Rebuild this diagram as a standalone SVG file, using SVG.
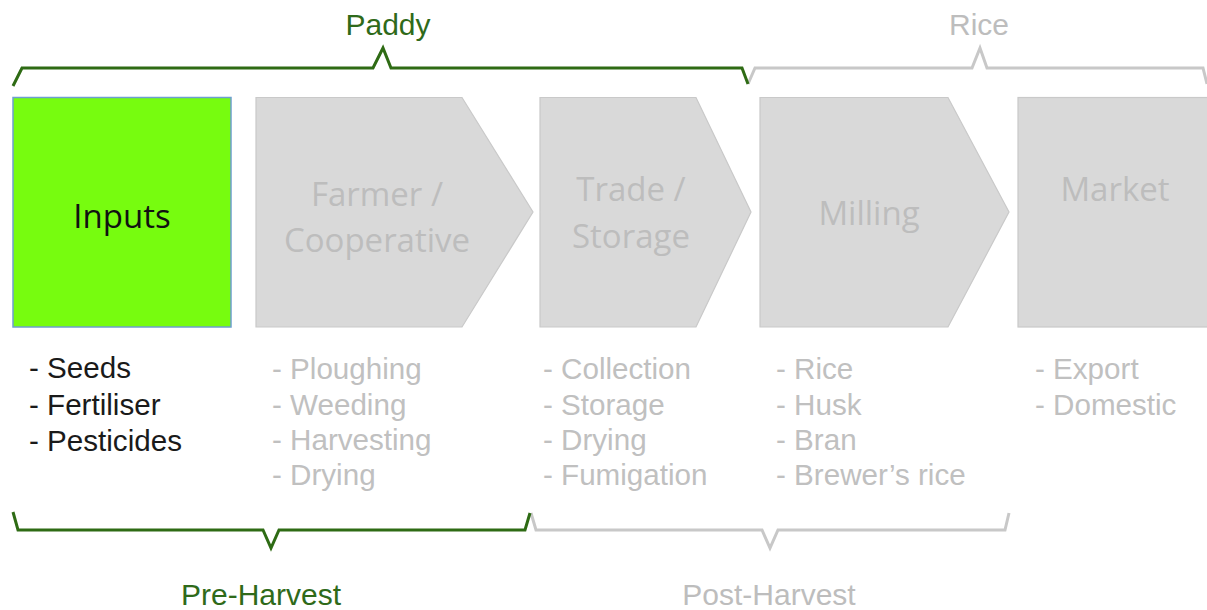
<svg xmlns="http://www.w3.org/2000/svg" width="1207" height="610" viewBox="0 0 1207 610">
<style>
.box{fill:#d9d9d9;stroke:#c9c9c9;stroke-width:1.2}
.lbl{font-family:"Open Sans","Liberation Sans",sans-serif;font-size:33px;fill:#bdbdbd;text-anchor:middle}
.lst{font-family:"Liberation Sans",Arial,sans-serif;font-size:29.6px;fill:#c0c0c0}
.blk{fill:#1a1a1a}
.hdr{font-family:"Liberation Sans",Arial,sans-serif;font-size:30px;text-anchor:middle}
.green{fill:#2f6a1a}
.grey{fill:#bdbdbd}
.brG{fill:none;stroke:#2e6b14;stroke-width:3;stroke-linejoin:miter}
.brY{fill:none;stroke:#c8c8c8;stroke-width:3;stroke-linejoin:miter}
</style>
<rect width="1207" height="610" fill="#ffffff"/>

<g id="connectors">
  <path class="brY" d="M748 84 L755 68 L972 68 L980 48 L987 68 L1203 68 L1207 84"/>
  <path class="brG" d="M13 86 L22 68 L373 68 L383 48 L391 68 L742 68 L748 84"/>
  <path class="brY" d="M531 513 L536 530 L762 530 L770 548 L778 530 L1005 530 L1009 513"/>
  <path class="brG" d="M13 512 L18 530 L263 530 L271 548 L279 530 L525 530 L530 513"/>
</g>

<g id="paddy-label"><text class="hdr green" x="388" y="35">Paddy</text></g>
<g id="rice-label"><text class="hdr grey" x="979" y="35">Rice</text></g>
<g id="preharvest-label"><text class="hdr green" x="261" y="605">Pre-Harvest</text></g>
<g id="postharvest-label"><text class="hdr grey" x="769" y="605">Post-Harvest</text></g>

<g id="inputs">
  <rect x="13" y="97.5" width="218" height="229.5" fill="#77fc0f" stroke="#6e9fd0" stroke-width="1.5"/>
  <text class="lbl" x="122" y="228" style="fill:#111111">Inputs</text>
  <text class="lst blk" x="29" y="378">- Seeds</text>
  <text class="lst blk" x="29" y="415">- Fertiliser</text>
  <text class="lst blk" x="29" y="451">- Pesticides</text>
</g>

<g id="farmer">
  <polygon class="box" points="256,97.5 462,97.5 533,212 462,327 256,327"/>
  <text class="lbl" x="377" y="206">Farmer /</text>
  <text class="lbl" x="377" y="252">Cooperative</text>
  <text class="lst" x="272" y="379">- Ploughing</text>
  <text class="lst" x="272" y="415">- Weeding</text>
  <text class="lst" x="272" y="450">- Harvesting</text>
  <text class="lst" x="272" y="485">- Drying</text>
</g>

<g id="trade">
  <polygon class="box" points="540,97.5 696,97.5 751,212 696,327 540,327"/>
  <text class="lbl" x="631" y="201">Trade /</text>
  <text class="lbl" x="631" y="248">Storage</text>
  <text class="lst" x="543" y="379">- Collection</text>
  <text class="lst" x="543" y="415">- Storage</text>
  <text class="lst" x="543" y="450">- Drying</text>
  <text class="lst" x="543" y="485">- Fumigation</text>
</g>

<g id="milling">
  <polygon class="box" points="760,97.5 948,97.5 1009,212 948,327 760,327"/>
  <text class="lbl" x="869" y="225">Milling</text>
  <text class="lst" x="776" y="379">- Rice</text>
  <text class="lst" x="776" y="415">- Husk</text>
  <text class="lst" x="776" y="450">- Bran</text>
  <text class="lst" x="776" y="485">- Brewer’s rice</text>
</g>

<g id="market">
  <rect class="box" x="1018" y="97.5" width="195" height="229.5"/>
  <text class="lbl" x="1115" y="201">Market</text>
  <text class="lst" x="1035" y="379">- Export</text>
  <text class="lst" x="1035" y="415">- Domestic</text>
</g>
</svg>
